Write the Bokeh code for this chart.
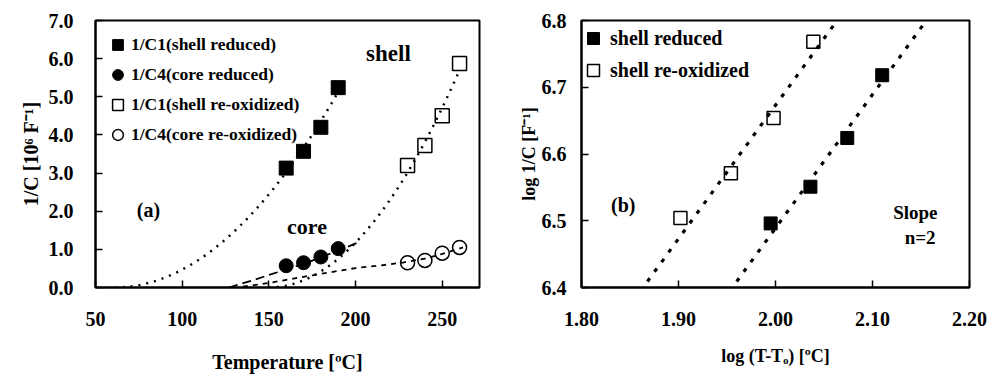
import numpy as np
from bokeh.plotting import figure
from bokeh.models import Range1d, Legend, LegendItem, Label, FixedTicker, NumeralTickFormatter
from bokeh.layouts import row
from bokeh.embed import file_html
from bokeh.resources import INLINE

# ---------------- data ----------------
# panel (a): 1/C in 10^6 F^-1 versus temperature in degC
temp_reduced = [160, 170, 180, 190]
shell_reduced = [3.13, 3.57, 4.20, 5.24]
core_reduced = [0.57, 0.65, 0.80, 1.02]
temp_reoxidized = [230, 240, 250, 260]
shell_reoxidized = [3.20, 3.72, 4.50, 5.87]
core_reoxidized = [0.65, 0.71, 0.90, 1.05]

# power-law fits (slope n, T0, intercept of log-log line)
fit_slope = 2
shell_red_T0, shell_red_b, shell_red_Tend = 61, 2.489, 190
shell_reox_T0, shell_reox_b, shell_reox_Tend = 150, 2.673, 260

# hand-drawn trend curves of the core data
core_red_fit_T = [127, 140, 155, 170, 185, 201]
core_red_fit_v = [0.0, 0.18, 0.40, 0.62, 0.88, 1.17]
core_reox_fit_T = [135, 150, 175, 200, 215, 228, 240, 250, 262]
core_reox_fit_v = [0.02, 0.12, 0.32, 0.51, 0.58, 0.66, 0.76, 0.88, 1.05]

# panel (b): log 1/C versus log(T-T0)
logdT_reduced = [1.995, 2.036, 2.074, 2.110]
loginvC_reduced = [6.496, 6.551, 6.624, 6.718]
logdT_reoxidized = [1.902, 1.954, 1.998, 2.039]
loginvC_reoxidized = [6.504, 6.571, 6.654, 6.768]
fitline_reduced_x = [1.960, 2.157]
fitline_reoxidized_x = [1.868, 2.064]

xticks_a = [50, 100, 150, 200, 250]
yticks_a = [0, 1, 2, 3, 4, 5, 6, 7]
xticks_b = [1.8, 1.9, 2.0, 2.1, 2.2]
yticks_b = [6.4, 6.5, 6.6, 6.7, 6.8]

FONT = "Liberation Serif"


def style(p, tick_size="20px", label_size="20px"):
    for ax in p.axis:
        ax.axis_line_width = 2
        ax.axis_line_color = "black"
        ax.major_tick_in = 7
        ax.major_tick_out = 0
        ax.major_tick_line_width = 1.5
        ax.minor_tick_line_color = None
        ax.major_label_text_font = FONT
        ax.major_label_text_font_style = "bold"
        ax.major_label_text_font_size = tick_size
        ax.major_label_text_color = "black"
        ax.axis_label_text_font = FONT
        ax.axis_label_text_font_style = "bold"
        ax.axis_label_text_font_size = label_size
        ax.axis_label_text_color = "black"
    p.xgrid.visible = False
    p.ygrid.visible = False
    p.outline_line_color = "black"
    p.outline_line_width = 2
    p.outline_line_alpha = 1


def label(p, x, y, text, size, align="center"):
    p.add_layout(Label(x=x, y=y, text=text, text_font=FONT, text_font_style="bold",
                       text_font_size=size, text_align=align, text_baseline="middle",
                       text_color="black"))


# ---------------- panel (a) ----------------
pa = figure(width=515, height=375, output_backend="svg", toolbar_location=None,
            x_range=Range1d(50, 271.5), y_range=Range1d(0, 7),
            min_border_left=95, min_border_right=36, min_border_top=20, min_border_bottom=87,
            background_fill_color="white", border_fill_color="white")

Ta = np.linspace(shell_red_T0, shell_red_Tend, 80)
pa.line(Ta, 10 ** (shell_red_b - 6) * (Ta - shell_red_T0) ** fit_slope,
        line_color="black", line_width=2.5, line_dash="2 6")
Tb = np.linspace(shell_reox_T0, shell_reox_Tend, 80)
pa.line(Tb, 10 ** (shell_reox_b - 6) * (Tb - shell_reox_T0) ** fit_slope,
        line_color="black", line_width=2.5, line_dash="2 6")
pa.line(core_red_fit_T, core_red_fit_v, line_color="black", line_width=1.8, line_dash="9 5")
pa.line(core_reox_fit_T, core_reox_fit_v, line_color="black", line_width=1.8, line_dash="5 5")

r1 = pa.scatter(temp_reduced, shell_reduced, marker="square", size=14,
                fill_color="black", line_color="black")
r2 = pa.scatter(temp_reduced, core_reduced, marker="circle", size=14,
                fill_color="black", line_color="black")
r3 = pa.scatter(temp_reoxidized, shell_reoxidized, marker="square", size=14,
                fill_color=None, line_color="black", line_width=1.5)
r4 = pa.scatter(temp_reoxidized, core_reoxidized, marker="circle", size=14,
                fill_color=None, line_color="black", line_width=1.5)

pa.xaxis.ticker = FixedTicker(ticks=xticks_a)
pa.yaxis.ticker = FixedTicker(ticks=yticks_a)
pa.yaxis.formatter = NumeralTickFormatter(format="0.0")
pa.xaxis.axis_label = "Temperature [ºC]"
pa.yaxis.axis_label = "1/C [10⁶ F⁻¹]"
style(pa)
pa.xaxis.major_label_standoff = 24
pa.xaxis.axis_label_standoff = 22
pa.yaxis.major_label_standoff = 22
pa.yaxis.axis_label_standoff = 4

leg_a = Legend(items=[LegendItem(label="1/C1(shell reduced)", renderers=[r1]),
                      LegendItem(label="1/C4(core reduced)", renderers=[r2]),
                      LegendItem(label="1/C1(shell re-oxidized)", renderers=[r3]),
                      LegendItem(label="1/C4(core re-oxidized)", renderers=[r4])],
               location=(9, 139), glyph_width=27, glyph_height=27, label_height=27,
               label_standoff=-3, spacing=3, padding=0, margin=0,
               border_line_color=None, background_fill_alpha=0,
               label_text_font=FONT, label_text_font_style="bold",
               label_text_font_size="17.5px", label_text_color="black")
pa.add_layout(leg_a)

label(pa, 219, 6.14, "shell", "23px")
label(pa, 172, 1.59, "core", "22px")
label(pa, 80.5, 2.04, "(a)", "20px")

# ---------------- panel (b) ----------------
pb = figure(width=484, height=375, output_backend="svg", toolbar_location=None,
            x_range=Range1d(1.8, 2.2), y_range=Range1d(6.4, 6.8),
            min_border_left=66, min_border_right=30, min_border_top=17, min_border_bottom=86,
            background_fill_color="white", border_fill_color="white")

for xs, b in ((fitline_reduced_x, shell_red_b), (fitline_reoxidized_x, shell_reox_b)):
    xs = np.array(xs)
    pb.line(xs, fit_slope * xs + b, line_color="black", line_width=3.2, line_dash="4 8")

s1 = pb.scatter(logdT_reduced, loginvC_reduced, marker="square", size=13,
                fill_color="black", line_color="black")
s2 = pb.scatter(logdT_reoxidized, loginvC_reoxidized, marker="square", size=13,
                fill_color=None, line_color="black", line_width=1.5)

pb.xaxis.ticker = FixedTicker(ticks=xticks_b)
pb.yaxis.ticker = FixedTicker(ticks=yticks_b)
pb.xaxis.formatter = NumeralTickFormatter(format="0.00")
pb.yaxis.formatter = NumeralTickFormatter(format="0.0")
pb.xaxis.axis_label = "log (T-Tₒ) [ºC]"
pb.yaxis.axis_label = "log 1/C [F⁻¹]"
style(pb, label_size="18px")
pb.xaxis.major_label_standoff = 24
pb.xaxis.axis_label_standoff = 17
pb.yaxis.major_label_standoff = 15
pb.yaxis.axis_label_standoff = 0

leg_b = Legend(items=[LegendItem(label="shell reduced", renderers=[s1]),
                      LegendItem(label="shell re-oxidized", renderers=[s2])],
               location=(-3, 202), glyph_width=30, glyph_height=30, label_height=30,
               label_standoff=2, spacing=2, padding=0, margin=0,
               border_line_color=None, background_fill_alpha=0,
               label_text_font=FONT, label_text_font_style="bold",
               label_text_font_size="20px", label_text_color="black")
pb.add_layout(leg_b)

label(pb, 1.843, 6.524, "(b)", "20px")
label(pb, 2.167, 6.512, "Slope", "19px", align="right")
label(pb, 2.165, 6.475, "n=2", "19px", align="right")

layout = row(pa, pb)
open("out.html", "w").write(file_html(layout, INLINE))
